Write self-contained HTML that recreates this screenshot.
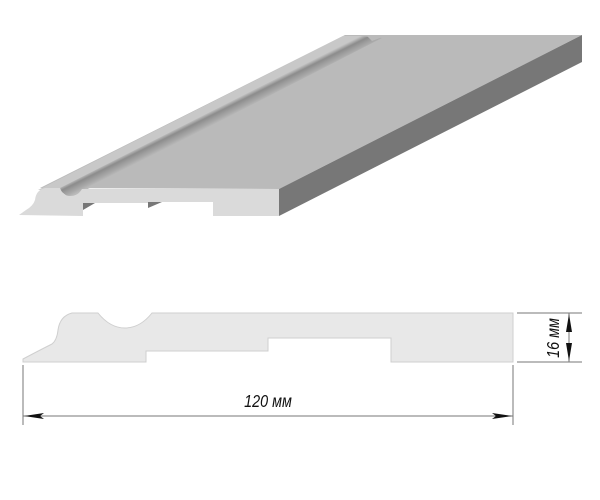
<!DOCTYPE html>
<html><head><meta charset="utf-8"><style>
html,body{margin:0;padding:0;background:#fff;}
svg{display:block;}
</style></head><body>
<svg width="600" height="500" viewBox="0 0 600 500" xmlns="http://www.w3.org/2000/svg">
<defs>
<linearGradient id="groove" gradientUnits="userSpaceOnUse" x1="209" y1="112" x2="215" y2="124">
<stop offset="0" stop-color="#c6c6c6"/><stop offset="0.3" stop-color="#8c8c8c"/><stop offset="0.75" stop-color="#a8a8a8"/><stop offset="1" stop-color="#bababa"/>
</linearGradient>
</defs>
<polygon points="40,188 345,35 582,35 279,189" fill="#bababa"/>
<polygon points="38,190 343,36 362,36 60,189" fill="#c8c8c8"/>
<polygon points="58,189 360,36 382,38 84,191 80,196 68,197" fill="url(#groove)"/>
<polygon points="360,35 366,35 372,41 380,38 380,35" fill="#bababa"/>
<polygon points="279,189 582,35 582,62 279,216" fill="#777"/>
<polygon points="83,203 95,203 83,210" fill="#777"/>
<polygon points="148,202 162,202 148,208" fill="#777"/>
<path d="M19,215 L26,210 Q33,206 35,200 Q36,190 45,188 L60,188 Q63,196 70,196 Q78,196 82,189 L279,189 L279,216 L213,216 L213,202 L148,202 L148,206 L148,203 L83,203 L83,216 Z" fill="#dadada"/>
<path d="M23,362 L23,359 Q40,350 52,344 Q57,340 58,330 Q60,316 72,313 L98,313 Q110,328 125,328 Q140,328 152,313 L513,313 L513,362 L391,362 L391,338 L268,338 L268,351 L146,351 L146,362 Z" fill="#e8e8e8" stroke="#cfcfcf" stroke-width="1"/>
<g stroke="#777" stroke-width="1" fill="none">
<line x1="23" y1="365" x2="23" y2="425"/>
<line x1="513" y1="365" x2="513" y2="425"/>
<line x1="23" y1="416" x2="513" y2="416"/>
<line x1="517" y1="313" x2="582" y2="313"/>
<line x1="517" y1="362" x2="582" y2="362"/>
<line x1="569" y1="313" x2="569" y2="362"/>
</g>
<g fill="#111">
<polygon points="24,416 44,413 40,416 44,419"/>
<polygon points="512,416 492,413 496,416 492,419"/>
<polygon points="569,314 566,332 572,332"/>
<polygon points="569,361 566,343 572,343"/>
</g>
<text transform="translate(268,407) scale(0.8,1)" font-family="Liberation Sans, sans-serif" font-style="italic" font-size="18" fill="#111" text-anchor="middle">120 мм</text>
<text transform="translate(559,338) rotate(-90) scale(0.8,1)" font-family="Liberation Sans, sans-serif" font-style="italic" font-size="18" fill="#111" text-anchor="middle">16 мм</text>
</svg>
</body></html>
